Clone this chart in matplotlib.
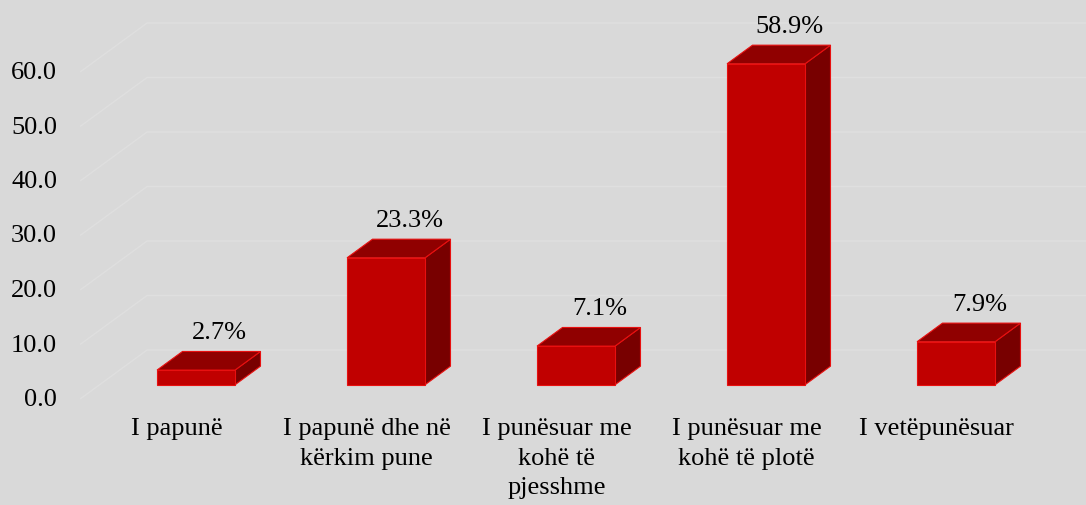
import numpy as np
import matplotlib.pyplot as plt
from matplotlib.patches import Polygon

# data
categories = ['I papunë', 'I papunë dhe në\nkërkim pune', 'I punësuar me\nkohë të\npjesshme',
              'I punësuar me\nkohë të plotë', 'I vetëpunësuar']
values = [2.7, 23.3, 7.1, 58.9, 7.9]
ticks = [0, 10, 20, 30, 40, 50, 60]

plt.rcParams['font.family'] = ['Liberation Serif', 'DejaVu Serif']

W, H = 1086, 506
fig = plt.figure(figsize=(W / 100, H / 100), dpi=100)
fig.patch.set_facecolor('#D9D9D9')
ax = fig.add_axes([0, 0, 1, 1])
ax.set_facecolor('#D9D9D9')
ax.axis('off')

# pixel-ish mapping: category spacing 190px, 5.45 px per unit
px_cat = 190.0
px_val = 5.45
x0_px, y0_px = 176.6, 400.0
ax.set_xlim(-x0_px / px_cat, (W - x0_px) / px_cat)
ax.set_ylim(-(H - y0_px) / px_val, y0_px / px_val)

# oblique depth offset (full depth)
DX = 67 / px_cat
DY = 49 / px_val


def pt(x, v, d):
    return (x + DX * d, v + DY * d)


# floor/wall gridlines
x_left = -0.508
x_right = 5.0
for t in ticks:
    a = pt(x_left, t, 0)
    b = pt(x_left, t, 1)
    c = pt(x_right, t, 1)
    ax.plot([a[0], b[0], c[0]], [a[1], b[1], c[1]], color='#DFDFDF', lw=1.0,
            solid_capstyle='butt', zorder=1)
    ax.text(-(x0_px - 57) / px_cat, t, f'{t:.1f}', ha='right', va='center',
            fontsize=19, color='black')

# bars
bw = 78 / px_cat
d_front, d_back = 0.29, 0.67
edge = '#E81010'
for i, v in enumerate(values):
    xl, xr = i - bw / 2, i + bw / 2
    front = [pt(xl, 0, d_front), pt(xr, 0, d_front), pt(xr, v, d_front), pt(xl, v, d_front)]
    top = [pt(xl, v, d_front), pt(xr, v, d_front), pt(xr, v, d_back), pt(xl, v, d_back)]
    side = [pt(xr, 0, d_front), pt(xr, 0, d_back), pt(xr, v, d_back), pt(xr, v, d_front)]
    ax.add_patch(Polygon(side, closed=True, fc='#780000', ec=edge, lw=0.8, zorder=3))
    ax.add_patch(Polygon(top, closed=True, fc='#900000', ec=edge, lw=0.8, zorder=3))
    ax.add_patch(Polygon(front, closed=True, fc='#C00000', ec=edge, lw=0.8, zorder=4))
    lx, ly = pt(i, v, d_back)
    ax.annotate(f'{v}%', (lx - 0.01, ly), xytext=(0, 6), textcoords='offset points',
                ha='center', va='bottom', fontsize=19, color='black', zorder=5)

# category labels
for i, lab in enumerate(categories):
    ax.text(i, -(418 - y0_px) / px_val, lab, ha='center', va='top', fontsize=19,
            linespacing=1.45, color='black')

fig.savefig('out.png', dpi=100, facecolor=fig.get_facecolor())
